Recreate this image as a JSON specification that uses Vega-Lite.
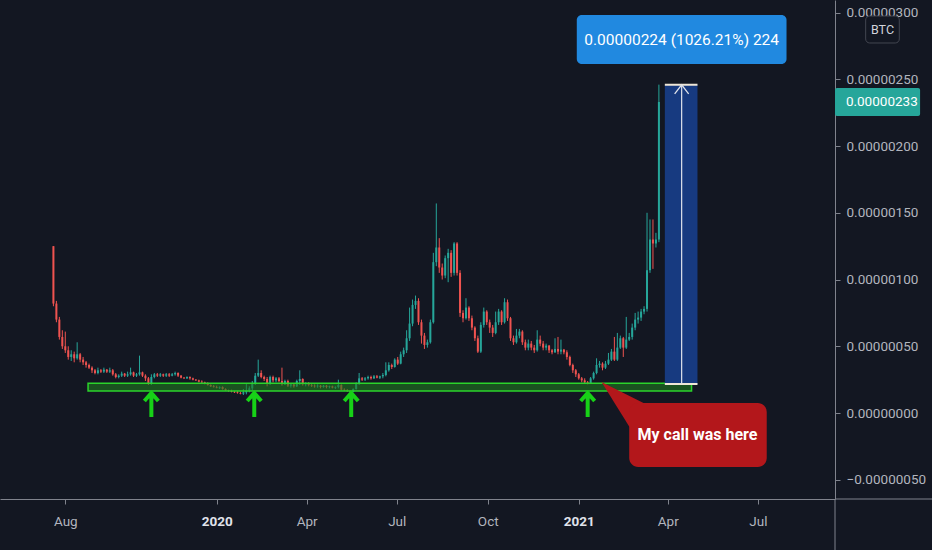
{
"$schema":"https://vega.github.io/schema/vega-lite/v6.json",
"width":835,"height":499,
"autosize":{"type":"none"},
"padding":{"left":0,"top":0,"right":97,"bottom":51},
"background":"#131722",
"config":{"view":{"stroke":null},"scale":{"continuousPadding":0}},
"datasets":{
"candles":[
{"d":"2019-07-20","o":125,"h":125,"l":80,"c":82},
{"d":"2019-07-23","o":82,"h":84,"l":68,"c":70},
{"d":"2019-07-26","o":70,"h":72,"l":55,"c":57},
{"d":"2019-07-29","o":57,"h":62,"l":48,"c":50},
{"d":"2019-08-01","o":50,"h":61,"l":45,"c":47},
{"d":"2019-08-04","o":47,"h":50,"l":40,"c":42},
{"d":"2019-08-07","o":42,"h":47,"l":39,"c":44},
{"d":"2019-08-10","o":44,"h":46,"l":38,"c":41},
{"d":"2019-08-13","o":41,"h":53,"l":40,"c":44},
{"d":"2019-08-16","o":44,"h":45,"l":38,"c":40},
{"d":"2019-08-19","o":40,"h":42,"l":36,"c":38},
{"d":"2019-08-22","o":38,"h":39,"l":34,"c":36},
{"d":"2019-08-25","o":36,"h":37,"l":33,"c":34},
{"d":"2019-08-28","o":34,"h":35,"l":30,"c":32},
{"d":"2019-08-31","o":32,"h":33,"l":29,"c":30},
{"d":"2019-09-03","o":30,"h":34,"l":29,"c":32},
{"d":"2019-09-06","o":32,"h":33,"l":30,"c":31},
{"d":"2019-09-09","o":31,"h":34,"l":30,"c":32.5},
{"d":"2019-09-12","o":32.5,"h":33,"l":30,"c":31},
{"d":"2019-09-15","o":31,"h":34,"l":30,"c":32},
{"d":"2019-09-18","o":32,"h":33,"l":28,"c":29},
{"d":"2019-09-21","o":29,"h":30,"l":26,"c":27},
{"d":"2019-09-24","o":27,"h":29,"l":26,"c":28},
{"d":"2019-09-27","o":28,"h":31,"l":27,"c":29.5},
{"d":"2019-09-30","o":29.5,"h":30,"l":27,"c":28},
{"d":"2019-10-03","o":28,"h":31,"l":27,"c":29},
{"d":"2019-10-06","o":29,"h":34,"l":28,"c":30.5},
{"d":"2019-10-09","o":30.5,"h":31,"l":27,"c":28},
{"d":"2019-10-12","o":28,"h":30,"l":27,"c":29},
{"d":"2019-10-15","o":29,"h":43,"l":28,"c":30.5},
{"d":"2019-10-18","o":30.5,"h":31,"l":27,"c":28},
{"d":"2019-10-21","o":28,"h":29,"l":24,"c":26},
{"d":"2019-10-24","o":26,"h":27,"l":21,"c":22},
{"d":"2019-10-27","o":22,"h":29,"l":21,"c":27},
{"d":"2019-10-30","o":27,"h":30,"l":26,"c":29},
{"d":"2019-11-02","o":29,"h":30,"l":27,"c":28},
{"d":"2019-11-05","o":28,"h":30,"l":27,"c":29},
{"d":"2019-11-08","o":29,"h":29.5,"l":27,"c":28},
{"d":"2019-11-11","o":28,"h":30,"l":27,"c":29},
{"d":"2019-11-14","o":29,"h":30,"l":27,"c":28},
{"d":"2019-11-17","o":28,"h":30,"l":27.5,"c":29},
{"d":"2019-11-20","o":29,"h":31,"l":28,"c":30},
{"d":"2019-11-23","o":30,"h":30.5,"l":27,"c":28},
{"d":"2019-11-26","o":28,"h":28.5,"l":26,"c":26.5},
{"d":"2019-11-29","o":26.5,"h":27,"l":25.5,"c":26},
{"d":"2019-12-02","o":26,"h":27.5,"l":25.5,"c":27},
{"d":"2019-12-05","o":27,"h":27.5,"l":25,"c":26},
{"d":"2019-12-08","o":26,"h":26.5,"l":24.5,"c":25},
{"d":"2019-12-11","o":25,"h":25.5,"l":24,"c":24.5},
{"d":"2019-12-14","o":24.5,"h":25,"l":23,"c":23.5},
{"d":"2019-12-17","o":23.5,"h":24.5,"l":22.5,"c":23},
{"d":"2019-12-20","o":23,"h":23.5,"l":21.5,"c":22},
{"d":"2019-12-23","o":22,"h":23,"l":20.5,"c":21},
{"d":"2019-12-26","o":21,"h":21.5,"l":19.5,"c":20},
{"d":"2019-12-29","o":20,"h":21,"l":19,"c":19.5},
{"d":"2020-01-01","o":19.5,"h":20.5,"l":18.5,"c":19},
{"d":"2020-01-04","o":19,"h":20,"l":18,"c":19.5},
{"d":"2020-01-07","o":19.5,"h":20,"l":17.5,"c":18},
{"d":"2020-01-10","o":18,"h":18.5,"l":16.5,"c":17},
{"d":"2020-01-13","o":17,"h":17.5,"l":16,"c":16.5},
{"d":"2020-01-16","o":16.5,"h":17.5,"l":15.5,"c":16},
{"d":"2020-01-19","o":16,"h":16.5,"l":15,"c":15.5},
{"d":"2020-01-22","o":15.5,"h":16.5,"l":14.5,"c":15},
{"d":"2020-01-25","o":15,"h":16,"l":14,"c":14.5},
{"d":"2020-01-28","o":14.5,"h":18,"l":13.5,"c":15.5},
{"d":"2020-01-31","o":15.5,"h":22,"l":14,"c":17},
{"d":"2020-02-03","o":17,"h":20,"l":15.5,"c":18.5},
{"d":"2020-02-06","o":18.5,"h":24,"l":17,"c":22},
{"d":"2020-02-09","o":22,"h":30,"l":21,"c":28},
{"d":"2020-02-12","o":28,"h":40,"l":27,"c":30},
{"d":"2020-02-15","o":30,"h":32,"l":26,"c":27},
{"d":"2020-02-18","o":27,"h":28,"l":24,"c":25.5},
{"d":"2020-02-21","o":25.5,"h":27,"l":20,"c":22},
{"d":"2020-02-24","o":22,"h":28,"l":21,"c":27},
{"d":"2020-02-27","o":27,"h":28,"l":23,"c":24.5},
{"d":"2020-03-01","o":24.5,"h":27,"l":23,"c":26},
{"d":"2020-03-04","o":26,"h":27,"l":23,"c":24},
{"d":"2020-03-07","o":24,"h":34,"l":20.5,"c":21.5},
{"d":"2020-03-10","o":21.5,"h":25,"l":21,"c":24},
{"d":"2020-03-13","o":24,"h":25,"l":19.5,"c":20.5},
{"d":"2020-03-16","o":20.5,"h":22,"l":19,"c":21.5},
{"d":"2020-03-19","o":21.5,"h":22,"l":19,"c":20},
{"d":"2020-03-22","o":20,"h":25,"l":19.5,"c":24},
{"d":"2020-03-25","o":24,"h":32,"l":21,"c":25.5},
{"d":"2020-03-28","o":25.5,"h":26,"l":20.5,"c":21.5},
{"d":"2020-03-31","o":21.5,"h":23,"l":20,"c":22.5},
{"d":"2020-04-03","o":22.5,"h":23,"l":20,"c":21},
{"d":"2020-04-06","o":21,"h":22,"l":19.5,"c":20.5},
{"d":"2020-04-09","o":20.5,"h":21.5,"l":19,"c":20},
{"d":"2020-04-12","o":20,"h":21.5,"l":19,"c":20.5},
{"d":"2020-04-15","o":20.5,"h":21,"l":18.5,"c":19.5},
{"d":"2020-04-18","o":19.5,"h":21,"l":19,"c":20.5},
{"d":"2020-04-21","o":20.5,"h":21,"l":18.5,"c":19.5},
{"d":"2020-04-24","o":19.5,"h":20.5,"l":18.5,"c":20},
{"d":"2020-04-27","o":20,"h":20.5,"l":18.5,"c":19},
{"d":"2020-04-30","o":19,"h":20,"l":18,"c":19.5},
{"d":"2020-05-03","o":19.5,"h":25,"l":18.5,"c":21},
{"d":"2020-05-06","o":21,"h":21.5,"l":17,"c":17.5},
{"d":"2020-05-09","o":17.5,"h":18.5,"l":16.5,"c":17},
{"d":"2020-05-12","o":17,"h":18,"l":16,"c":16.5},
{"d":"2020-05-15","o":16.5,"h":17,"l":15.5,"c":16},
{"d":"2020-05-18","o":16,"h":18.5,"l":15.5,"c":18},
{"d":"2020-05-21","o":18,"h":23,"l":17.5,"c":22},
{"d":"2020-05-24","o":22,"h":30,"l":21,"c":26},
{"d":"2020-05-27","o":26,"h":27,"l":24,"c":25},
{"d":"2020-05-30","o":25,"h":27,"l":24,"c":26},
{"d":"2020-06-02","o":26,"h":28,"l":25,"c":27},
{"d":"2020-06-05","o":27,"h":28,"l":25,"c":26},
{"d":"2020-06-08","o":26,"h":28.5,"l":25.5,"c":27.5},
{"d":"2020-06-11","o":27.5,"h":28.5,"l":26,"c":26.5},
{"d":"2020-06-14","o":26.5,"h":28,"l":25.5,"c":27.5},
{"d":"2020-06-17","o":27.5,"h":30,"l":26,"c":28.5},
{"d":"2020-06-20","o":28.5,"h":38,"l":27.5,"c":32},
{"d":"2020-06-23","o":32,"h":38,"l":31,"c":36},
{"d":"2020-06-26","o":36,"h":37,"l":33,"c":34.5},
{"d":"2020-06-29","o":34.5,"h":41,"l":34,"c":40},
{"d":"2020-07-02","o":40,"h":42,"l":36,"c":37},
{"d":"2020-07-05","o":37,"h":46,"l":36.5,"c":44},
{"d":"2020-07-08","o":44,"h":49,"l":42,"c":47},
{"d":"2020-07-11","o":47,"h":62,"l":45,"c":56},
{"d":"2020-07-14","o":56,"h":79,"l":54,"c":67},
{"d":"2020-07-17","o":67,"h":85,"l":65,"c":81},
{"d":"2020-07-20","o":81,"h":88,"l":78,"c":84},
{"d":"2020-07-23","o":84,"h":86,"l":66,"c":68},
{"d":"2020-07-26","o":68,"h":70,"l":52,"c":58},
{"d":"2020-07-29","o":58,"h":60,"l":48,"c":51},
{"d":"2020-08-01","o":51,"h":55,"l":49,"c":53},
{"d":"2020-08-04","o":53,"h":70,"l":52,"c":68},
{"d":"2020-08-07","o":68,"h":120,"l":67,"c":113},
{"d":"2020-08-10","o":113,"h":157,"l":110,"c":124},
{"d":"2020-08-13","o":124,"h":131,"l":105,"c":109},
{"d":"2020-08-16","o":109,"h":112,"l":100,"c":103},
{"d":"2020-08-19","o":103,"h":118,"l":101,"c":116},
{"d":"2020-08-22","o":116,"h":123,"l":98,"c":120},
{"d":"2020-08-25","o":120,"h":122,"l":102,"c":105},
{"d":"2020-08-28","o":105,"h":128,"l":103,"c":127},
{"d":"2020-08-31","o":127,"h":128,"l":103,"c":105},
{"d":"2020-09-03","o":105,"h":107,"l":72,"c":75},
{"d":"2020-09-06","o":75,"h":77,"l":68,"c":71},
{"d":"2020-09-09","o":71,"h":86,"l":70,"c":79},
{"d":"2020-09-12","o":79,"h":80,"l":69,"c":71},
{"d":"2020-09-15","o":71,"h":73,"l":62,"c":64},
{"d":"2020-09-18","o":64,"h":65,"l":54,"c":56},
{"d":"2020-09-21","o":56,"h":58,"l":45,"c":46},
{"d":"2020-09-24","o":46,"h":68,"l":45,"c":66},
{"d":"2020-09-27","o":66,"h":79,"l":64,"c":76},
{"d":"2020-09-30","o":76,"h":77,"l":66,"c":68},
{"d":"2020-10-03","o":68,"h":70,"l":60,"c":64},
{"d":"2020-10-06","o":64,"h":66,"l":57,"c":60},
{"d":"2020-10-09","o":60,"h":76,"l":59,"c":68},
{"d":"2020-10-12","o":68,"h":78,"l":66,"c":76},
{"d":"2020-10-15","o":76,"h":77,"l":66,"c":68},
{"d":"2020-10-18","o":68,"h":86,"l":67,"c":83},
{"d":"2020-10-21","o":83,"h":85,"l":69,"c":71},
{"d":"2020-10-24","o":71,"h":72,"l":54,"c":56},
{"d":"2020-10-27","o":56,"h":58,"l":51,"c":53},
{"d":"2020-10-30","o":53,"h":63,"l":52,"c":58},
{"d":"2020-11-02","o":58,"h":63,"l":56,"c":61},
{"d":"2020-11-05","o":61,"h":62,"l":51,"c":53},
{"d":"2020-11-08","o":53,"h":55,"l":47,"c":49},
{"d":"2020-11-11","o":49,"h":55,"l":47,"c":52},
{"d":"2020-11-14","o":52,"h":54,"l":47,"c":49},
{"d":"2020-11-17","o":49,"h":51,"l":45,"c":47},
{"d":"2020-11-20","o":47,"h":62,"l":46,"c":55},
{"d":"2020-11-23","o":55,"h":58,"l":50,"c":52},
{"d":"2020-11-26","o":52,"h":54,"l":47,"c":49},
{"d":"2020-11-29","o":49,"h":52,"l":47,"c":50.5},
{"d":"2020-12-02","o":50.5,"h":51,"l":45,"c":47},
{"d":"2020-12-05","o":47,"h":48,"l":44,"c":45.5},
{"d":"2020-12-08","o":45.5,"h":56,"l":45,"c":48},
{"d":"2020-12-11","o":48,"h":57,"l":44,"c":46},
{"d":"2020-12-14","o":46,"h":55,"l":44,"c":47.5},
{"d":"2020-12-17","o":47.5,"h":48,"l":44,"c":45.5},
{"d":"2020-12-20","o":45.5,"h":47,"l":40,"c":42},
{"d":"2020-12-23","o":42,"h":43,"l":35,"c":36},
{"d":"2020-12-26","o":36,"h":37,"l":30,"c":32},
{"d":"2020-12-29","o":32,"h":33,"l":27,"c":29},
{"d":"2021-01-01","o":29,"h":30,"l":25,"c":26},
{"d":"2021-01-04","o":26,"h":27,"l":23,"c":24.5},
{"d":"2021-01-07","o":24.5,"h":26,"l":22,"c":23},
{"d":"2021-01-10","o":23,"h":24,"l":21.5,"c":22.5},
{"d":"2021-01-13","o":22.5,"h":27,"l":22,"c":26},
{"d":"2021-01-16","o":26,"h":31,"l":25,"c":30},
{"d":"2021-01-19","o":30,"h":41,"l":29,"c":36},
{"d":"2021-01-22","o":36,"h":39,"l":34,"c":37},
{"d":"2021-01-25","o":37,"h":38,"l":32,"c":34},
{"d":"2021-01-28","o":34,"h":39,"l":33,"c":37},
{"d":"2021-01-31","o":37,"h":45,"l":36,"c":40},
{"d":"2021-02-03","o":40,"h":48,"l":39,"c":46},
{"d":"2021-02-06","o":46,"h":57,"l":39,"c":40},
{"d":"2021-02-09","o":40,"h":60,"l":39,"c":49},
{"d":"2021-02-12","o":49,"h":58,"l":48,"c":56},
{"d":"2021-02-15","o":56,"h":57,"l":42,"c":49},
{"d":"2021-02-18","o":49,"h":72,"l":48,"c":55},
{"d":"2021-02-21","o":55,"h":60,"l":54,"c":57},
{"d":"2021-02-24","o":57,"h":67,"l":55,"c":64},
{"d":"2021-02-27","o":64,"h":75,"l":62,"c":70},
{"d":"2021-03-02","o":70,"h":76,"l":67,"c":71.5},
{"d":"2021-03-05","o":71.5,"h":78,"l":69,"c":76},
{"d":"2021-03-08","o":76,"h":80,"l":74,"c":78},
{"d":"2021-03-11","o":78,"h":150,"l":76,"c":107},
{"d":"2021-03-14","o":107,"h":145,"l":105,"c":130},
{"d":"2021-03-17","o":130,"h":145,"l":108,"c":127},
{"d":"2021-03-20","o":127,"h":135,"l":124,"c":130},
{"d":"2021-03-23","o":130,"h":246,"l":128,"c":233}
]},
"layer":[
{"data":{"name":"candles"},
 "mark":{"type":"rule","strokeWidth":1},
 "encoding":{
  "x":{"field":"d","type":"temporal","scale":{"type":"utc","padding":0,"domain":[{"year":2019,"month":5,"date":27,"utc":true},{"year":2021,"month":9,"date":17,"utc":true}]},
   "axis":{"title":null,"orient":"bottom","grid":false,"values":[{"year":2019,"month":8,"date":1,"utc":true},{"year":2020,"month":1,"date":1,"utc":true},{"year":2020,"month":4,"date":1,"utc":true},{"year":2020,"month":7,"date":1,"utc":true},{"year":2020,"month":10,"date":1,"utc":true},{"year":2021,"month":1,"date":1,"utc":true},{"year":2021,"month":4,"date":1,"utc":true},{"year":2021,"month":7,"date":1,"utc":true}],
    "labelExpr":"utcmonth(datum.value)==0 ? utcFormat(datum.value,'%Y') : utcFormat(datum.value,'%b')",
    "domainColor":"#80838d","tickColor":"#80838d","tickSize":5,"labelPadding":10,
    "labelFont":"Roboto","labelFontSize":13.5,"labelFlush":false,"labelOverlap":false,
    "labelColor":{"condition":{"test":"utcmonth(datum.value)==0","value":"#e0e3eb"},"value":"#b2b5be"},
    "labelFontWeight":{"condition":{"test":"utcmonth(datum.value)==0","value":"bold"},"value":"normal"}}},
  "y":{"field":"l","type":"quantitative","scale":{"domain":[-64.4,309.4],"nice":false,"zero":false},
   "axis":{"title":null,"orient":"right","grid":false,"values":[-50,0,50,100,150,200,250,300],
    "labelExpr":"format(datum.value/100000000,'.8f')","domainColor":"#80838d","tickColor":"#80838d","tickSize":5,
    "labelPadding":6,"labelFont":"Roboto","labelFontSize":13.5,"labelColor":"#b2b5be","labelFlush":false,"labelOverlap":false}},
  "y2":{"field":"h"},
  "color":{"condition":{"test":"datum.c >= datum.o","value":"#26a69a"},"value":"#ef5350"}}},
{"data":{"name":"candles"},
 "mark":{"type":"bar","width":2},
 "encoding":{
  "x":{"field":"d","type":"temporal","title":null,"scale":{"type":"utc","padding":0,"domain":[{"year":2019,"month":5,"date":27,"utc":true},{"year":2021,"month":9,"date":17,"utc":true}]}},
  "y":{"field":"o","type":"quantitative","title":null,"scale":{"domain":[-64.4,309.4],"nice":false,"zero":false}},
  "y2":{"field":"c"},
  "color":{"condition":{"test":"datum.c >= datum.o","value":"#26a69a"},"value":"#ef5350"}}},
{"data":{"values":[{"t":"2019-08-24","t2":"2021-04-25","v":16.5,"v2":22.4}]},
 "mark":{"type":"rect","fill":"#1f7a1f","fillOpacity":0.6,"stroke":"#2bd42b","strokeWidth":1.5},
 "encoding":{
  "x":{"field":"t","type":"temporal","title":null,"scale":{"type":"utc","padding":0,"domain":[{"year":2019,"month":5,"date":27,"utc":true},{"year":2021,"month":9,"date":17,"utc":true}]}},
  "x2":{"field":"t2"},
  "y":{"field":"v","type":"quantitative","title":null,"scale":{"domain":[-64.4,309.4],"nice":false,"zero":false}},
  "y2":{"field":"v2"}}},
{"data":{"values":[{"t":"2019-10-27","v":15},{"t":"2020-02-08","v":15},{"t":"2020-05-16","v":15},{"t":"2021-01-10","v":15}]},
 "mark":{"type":"point","shape":"M0,0L0,24M-7,8L0,0L7,8","size":4,"filled":false,"stroke":"#17d117","color":"#17d117","strokeWidth":4,"opacity":1,"strokeJoin":"miter","strokeCap":"butt"},
 "encoding":{
  "x":{"field":"t","type":"temporal","title":null,"scale":{"type":"utc","padding":0,"domain":[{"year":2019,"month":5,"date":27,"utc":true},{"year":2021,"month":9,"date":17,"utc":true}]}},
  "y":{"field":"v","type":"quantitative","title":null,"scale":{"domain":[-64.4,309.4],"nice":false,"zero":false}}}},
{"data":{"values":[{"t":"2021-03-29","t2":"2021-05-01","v":21.83,"v2":245.83}]},
 "mark":{"type":"rect","fill":"#173a80"},
 "encoding":{
  "x":{"field":"t","type":"temporal","title":null,"scale":{"type":"utc","padding":0,"domain":[{"year":2019,"month":5,"date":27,"utc":true},{"year":2021,"month":9,"date":17,"utc":true}]}},
  "x2":{"field":"t2"},
  "y":{"field":"v","type":"quantitative","title":null,"scale":{"domain":[-64.4,309.4],"nice":false,"zero":false}},
  "y2":{"field":"v2"}}},
{"data":{"values":[{"t":"2021-03-29","t2":"2021-05-01","v":245.83},{"t":"2021-03-29","t2":"2021-05-01","v":21.83}]},
 "mark":{"type":"rule","stroke":"#efe6d6","strokeWidth":2},
 "encoding":{
  "x":{"field":"t","type":"temporal","title":null,"scale":{"type":"utc","padding":0,"domain":[{"year":2019,"month":5,"date":27,"utc":true},{"year":2021,"month":9,"date":17,"utc":true}]}},
  "x2":{"field":"t2"},
  "y":{"field":"v","type":"quantitative","title":null,"scale":{"domain":[-64.4,309.4],"nice":false,"zero":false}}}},
{"data":{"values":[{"t":"2021-04-15","v":21.83,"v2":245.83}]},
 "mark":{"type":"rule","stroke":"#e0e3eb","strokeWidth":1.2},
 "encoding":{
  "x":{"field":"t","type":"temporal","title":null,"scale":{"type":"utc","padding":0,"domain":[{"year":2019,"month":5,"date":27,"utc":true},{"year":2021,"month":9,"date":17,"utc":true}]}},
  "y":{"field":"v","type":"quantitative","title":null,"scale":{"domain":[-64.4,309.4],"nice":false,"zero":false}},
  "y2":{"field":"v2"}}},
{"data":{"values":[{"t":"2021-04-15","v":245.83}]},
 "mark":{"type":"point","shape":"M-7,9L0,0L7,9","size":4,"filled":false,"stroke":"#e0e3eb","color":"#e0e3eb","strokeWidth":1.3,"opacity":1},
 "encoding":{
  "x":{"field":"t","type":"temporal","title":null,"scale":{"type":"utc","padding":0,"domain":[{"year":2019,"month":5,"date":27,"utc":true},{"year":2021,"month":9,"date":17,"utc":true}]}},
  "y":{"field":"v","type":"quantitative","title":null,"scale":{"domain":[-64.4,309.4],"nice":false,"zero":false}}}},
{"data":{"values":[{"t":"2020-12-30","t2":"2021-07-30","v":261.4,"v2":298.1}]},
 "mark":{"type":"rect","fill":"#2189e0","cornerRadius":5},
 "encoding":{
  "x":{"field":"t","type":"temporal","title":null,"scale":{"type":"utc","padding":0,"domain":[{"year":2019,"month":5,"date":27,"utc":true},{"year":2021,"month":9,"date":17,"utc":true}]}},
  "x2":{"field":"t2"},
  "y":{"field":"v","type":"quantitative","title":null,"scale":{"domain":[-64.4,309.4],"nice":false,"zero":false}},
  "y2":{"field":"v2"}}},
{"data":{"values":[{"t":"2021-04-15","v":279.4,"label":"0.00000224 (1026.21%) 224"}]},
 "mark":{"type":"text","font":"Roboto","fontSize":15.5,"color":"#ffffff","align":"center","baseline":"middle"},
 "encoding":{
  "x":{"field":"t","type":"temporal","title":null,"scale":{"type":"utc","padding":0,"domain":[{"year":2019,"month":5,"date":27,"utc":true},{"year":2021,"month":9,"date":17,"utc":true}]}},
  "y":{"field":"v","type":"quantitative","title":null,"scale":{"domain":[-64.4,309.4],"nice":false,"zero":false}},
  "text":{"field":"label"}}},
{"data":{"values":[{"t":"2021-01-24","v":23.2}]},
 "mark":{"type":"point","shape":"M0,0L42,21L28,45Z","size":4,"filled":true,"fill":"#b3171b","color":"#b3171b","strokeWidth":0,"opacity":1},
 "encoding":{
  "x":{"field":"t","type":"temporal","title":null,"scale":{"type":"utc","padding":0,"domain":[{"year":2019,"month":5,"date":27,"utc":true},{"year":2021,"month":9,"date":17,"utc":true}]}},
  "y":{"field":"v","type":"quantitative","title":null,"scale":{"domain":[-64.4,309.4],"nice":false,"zero":false}}}},
{"data":{"values":[{"t":"2021-02-21","t2":"2021-07-10","v":-40.4,"v2":7.5}]},
 "mark":{"type":"rect","fill":"#b3171b","cornerRadius":9},
 "encoding":{
  "x":{"field":"t","type":"temporal","title":null,"scale":{"type":"utc","padding":0,"domain":[{"year":2019,"month":5,"date":27,"utc":true},{"year":2021,"month":9,"date":17,"utc":true}]}},
  "x2":{"field":"t2"},
  "y":{"field":"v","type":"quantitative","title":null,"scale":{"domain":[-64.4,309.4],"nice":false,"zero":false}},
  "y2":{"field":"v2"}}},
{"data":{"values":[{"t":"2021-05-01","v":-16.5,"label":"My call was here"}]},
 "mark":{"type":"text","font":"Roboto","fontSize":16,"fontWeight":"bold","color":"#ffffff","align":"center","baseline":"middle"},
 "encoding":{
  "x":{"field":"t","type":"temporal","title":null,"scale":{"type":"utc","padding":0,"domain":[{"year":2019,"month":5,"date":27,"utc":true},{"year":2021,"month":9,"date":17,"utc":true}]}},
  "y":{"field":"v","type":"quantitative","title":null,"scale":{"domain":[-64.4,309.4],"nice":false,"zero":false}},
  "text":{"field":"label"}}},
{"data":{"values":[{"t":"2021-09-17","t2":"2021-12-12","v":222.5,"v2":243.4}]},
 "mark":{"type":"rect","fill":"#26a69a","cornerRadius":2},
 "encoding":{
  "x":{"field":"t","type":"temporal","title":null,"scale":{"type":"utc","padding":0,"domain":[{"year":2019,"month":5,"date":27,"utc":true},{"year":2021,"month":9,"date":17,"utc":true}]}},
  "x2":{"field":"t2"},
  "y":{"field":"v","type":"quantitative","title":null,"scale":{"domain":[-64.4,309.4],"nice":false,"zero":false}},
  "y2":{"field":"v2"}}},
{"data":{"values":[{"t":"2021-09-28","v":233,"label":"0.00000233"}]},
 "mark":{"type":"text","font":"Roboto","fontSize":13.5,"color":"#ffffff","align":"left","baseline":"middle"},
 "encoding":{
  "x":{"field":"t","type":"temporal","title":null,"scale":{"type":"utc","padding":0,"domain":[{"year":2019,"month":5,"date":27,"utc":true},{"year":2021,"month":9,"date":17,"utc":true}]}},
  "y":{"field":"v","type":"quantitative","title":null,"scale":{"domain":[-64.4,309.4],"nice":false,"zero":false}},
  "text":{"field":"label"}}},
{"data":{"values":[{"t":"2021-10-18","t2":"2021-11-21","v":277.2,"v2":297.4}]},
 "mark":{"type":"rect","fill":"#131722","stroke":"#434651","strokeWidth":1,"cornerRadius":4},
 "encoding":{
  "x":{"field":"t","type":"temporal","title":null,"scale":{"type":"utc","padding":0,"domain":[{"year":2019,"month":5,"date":27,"utc":true},{"year":2021,"month":9,"date":17,"utc":true}]}},
  "x2":{"field":"t2"},
  "y":{"field":"v","type":"quantitative","title":null,"scale":{"domain":[-64.4,309.4],"nice":false,"zero":false}},
  "y2":{"field":"v2"}}},
{"data":{"values":[{"t":"2021-11-04","v":287.3,"label":"BTC"}]},
 "mark":{"type":"text","font":"Roboto","fontSize":12.5,"color":"#d1d4dc","align":"center","baseline":"middle"},
 "encoding":{
  "x":{"field":"t","type":"temporal","title":null,"scale":{"type":"utc","padding":0,"domain":[{"year":2019,"month":5,"date":27,"utc":true},{"year":2021,"month":9,"date":17,"utc":true}]}},
  "y":{"field":"v","type":"quantitative","title":null,"scale":{"domain":[-64.4,309.4],"nice":false,"zero":false}},
  "text":{"field":"label"}}},
{"data":{"values":[{"t":"2021-09-17","t2":"2022-01-05","v":-64.4,"v2":-64.4},{"t":"2021-09-17","t2":"2021-09-17","v":-64.4,"v2":-104}]},
 "mark":{"type":"rule","stroke":"#80838d","strokeWidth":1},
 "encoding":{
  "x":{"field":"t","type":"temporal","title":null,"scale":{"type":"utc","padding":0,"domain":[{"year":2019,"month":5,"date":27,"utc":true},{"year":2021,"month":9,"date":17,"utc":true}]}},
  "x2":{"field":"t2"},
  "y":{"field":"v","type":"quantitative","title":null,"scale":{"domain":[-64.4,309.4],"nice":false,"zero":false}},
  "y2":{"field":"v2"}}}
]
}
